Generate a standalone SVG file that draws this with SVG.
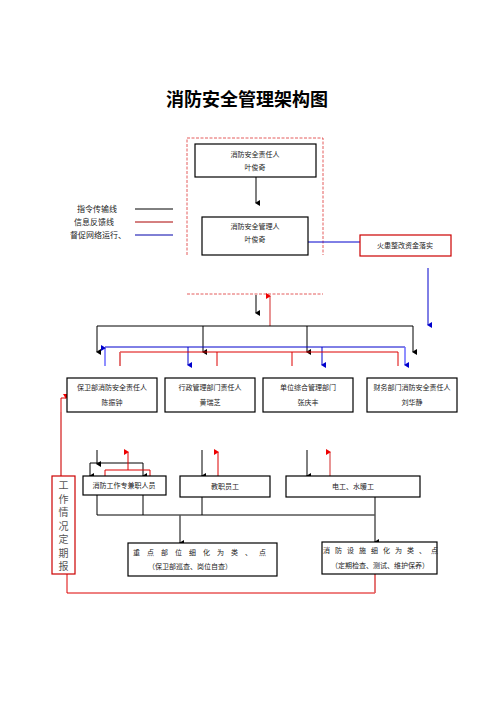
<svg xmlns="http://www.w3.org/2000/svg" width="496" height="702" viewBox="0 0 496 702">
<defs>
<style>
text{font-family:"Noto Sans CJK SC","Noto Sans",sans-serif;fill:#222;}
.t{font-size:7px;text-anchor:middle;}
.v{font-size:10px;text-anchor:middle;fill:#555;}
.box{fill:#fff;stroke:#000;stroke-width:1.2;}
.rbox{fill:#fff;stroke:#c00;stroke-width:1.2;}
.k{stroke:#000;stroke-width:1;fill:none;}
.g{stroke:#555;stroke-width:1.5;fill:none;}
.r{stroke:#d00;stroke-width:1;fill:none;}
.rl{stroke:#e07070;stroke-width:1.5;fill:none;}
.b{stroke:#00c;stroke-width:1;fill:none;}
.bl{stroke:#6a6aff;stroke-width:1.5;fill:none;}
.dash{stroke:#d33;stroke-width:0.8;stroke-dasharray:3,1.5;fill:none;}
</style>
<marker id="ak" markerWidth="6" markerHeight="6" refX="3" refY="5" orient="auto" markerUnits="userSpaceOnUse" viewBox="0 0 6 6"><path d="M0,1 L6,1 L3,6 Z" fill="#000"/></marker>
<marker id="ar" markerWidth="6" markerHeight="6" refX="3" refY="5" orient="auto" markerUnits="userSpaceOnUse" viewBox="0 0 6 6"><path d="M0,1 L6,1 L3,6 Z" fill="#e00"/></marker>
<marker id="ab" markerWidth="6" markerHeight="6" refX="3" refY="5" orient="auto" markerUnits="userSpaceOnUse" viewBox="0 0 6 6"><path d="M0,1 L6,1 L3,6 Z" fill="#00c"/></marker>
</defs>
<rect width="496" height="702" fill="#fff"/>
<text x="247" y="106" style="font-size:18px;font-weight:bold;text-anchor:middle;fill:#000">消防安全管理架构图</text>

<g id="legend">
<text x="77" y="212" style="font-size:8px">指令传输线</text>
<text x="74" y="225" style="font-size:8px">信息反馈线</text>
<text x="70" y="238" style="font-size:8px">督促网络运行、</text>
<line x1="135" y1="209" x2="173" y2="209" stroke="#000" stroke-width="1"/>
<line x1="135" y1="222" x2="173" y2="222" stroke="#a00" stroke-width="1"/>
<line x1="135" y1="235" x2="173" y2="235" stroke="#00a" stroke-width="1"/>
</g>

<g id="frame">
<path class="dash" d="M187,255 V138 H323 V255"/>
<line class="dash" x1="187" y1="294" x2="323" y2="294"/>
</g>

<g id="connectors">
<line class="g" x1="256" y1="177" x2="256" y2="203" marker-end="url(#ak)"/>
<path class="b" d="M308,242 H360"/>
<line class="b" x1="428" y1="268" x2="428" y2="325" marker-end="url(#ab)"/>
<line class="g" x1="256" y1="295" x2="256" y2="313" marker-end="url(#ak)"/>
<line class="rl" x1="270" y1="326" x2="270" y2="296" marker-end="url(#ar)"/>
<path class="k" d="M97,326 H413"/>
<line class="k" x1="97" y1="326" x2="97" y2="352" marker-end="url(#ak)"/>
<line class="k" x1="203" y1="326" x2="203" y2="352" marker-end="url(#ak)"/>
<line class="k" x1="307" y1="326" x2="307" y2="352" marker-end="url(#ak)"/>
<line class="k" x1="413" y1="326" x2="413" y2="352" marker-end="url(#ak)"/>
<path class="b" d="M105,347 H405"/>
<line class="bl" x1="105" y1="366" x2="105" y2="348" marker-end="url(#ab)"/>
<line class="b" x1="188" y1="347" x2="188" y2="365" marker-end="url(#ab)"/>
<line class="b" x1="322" y1="347" x2="322" y2="365" marker-end="url(#ab)"/>
<line class="bl" x1="405" y1="347" x2="405" y2="365" marker-end="url(#ab)"/>
<path class="r" d="M120,366 V352 H398 V366"/>
<path class="rl" d="M120,352 V366"/>
<line class="r" x1="217" y1="352" x2="217" y2="366"/>
<line class="r" x1="292" y1="352" x2="292" y2="366"/>
<path class="r" d="M61,477 V398 H66" marker-end="url(#ar)"/>
<path class="rl" d="M61,477 V412"/>
<line class="k" x1="97" y1="450" x2="97" y2="464" marker-end="url(#ak)"/>
<path class="k" d="M90,463 H143"/>
<line class="k" x1="90" y1="463" x2="90" y2="476" marker-end="url(#ak)"/>
<line class="k" x1="143" y1="463" x2="143" y2="476" marker-end="url(#ak)"/>
<path class="r" d="M105,476 V470 H150 V476"/>
<line class="r" x1="128" y1="470" x2="128" y2="452" marker-end="url(#ar)"/>
<line class="k" x1="202" y1="450" x2="202" y2="476" marker-end="url(#ak)"/>
<line class="r" x1="218" y1="476" x2="218" y2="452" marker-end="url(#ar)"/>
<line class="k" x1="307" y1="450" x2="307" y2="476" marker-end="url(#ak)"/>
<line class="rl" x1="330" y1="476" x2="330" y2="452" marker-end="url(#ar)"/>
<path class="k" d="M97,495 V515 M143,495 V515 M202,497 V515 M97,515 H375"/>
<line class="g" x1="180" y1="515" x2="180" y2="543" marker-end="url(#ak)"/>
<line class="g" x1="375" y1="497" x2="375" y2="542" marker-end="url(#ak)"/>
<path class="r" d="M67,574 V593 H375 V574"/>
<path class="rl" d="M375,593 V574"/>
</g>

<g id="n1"><rect class="box" x="195" y="144" width="121" height="33"/>
<text class="t" x="255" y="157">消防安全责任人</text><text class="t" x="255" y="170">叶俊奇</text></g>
<g id="n2"><rect class="box" x="202" y="217" width="106" height="38"/>
<text class="t" x="255" y="229">消防安全管理人</text><text class="t" x="255" y="242">叶俊奇</text></g>
<g id="n3"><rect class="rbox" x="360" y="235" width="91" height="21"/>
<text class="t" x="405" y="248">火患整改资金落实</text></g>
<g id="n4"><rect class="box" x="67" y="378" width="90" height="34"/>
<text class="t" x="112" y="390">保卫部消防安全责任人</text><text class="t" x="112" y="405">陈振钟</text></g>
<g id="n5"><rect class="box" x="165" y="378" width="90" height="34"/>
<text class="t" x="210" y="390">行政管理部门责任人</text><text class="t" x="210" y="405">黄瑞芝</text></g>
<g id="n6"><rect class="box" x="263" y="378" width="90" height="34"/>
<text class="t" x="308" y="390">单位综合管理部门</text><text class="t" x="308" y="405">张庆丰</text></g>
<g id="n7"><rect class="box" x="367" y="378" width="90" height="34"/>
<text class="t" x="412" y="390">财务部门消防安全责任人</text><text class="t" x="412" y="405">刘华静</text></g>
<g id="n8"><rect class="box" x="83" y="476" width="83" height="19"/>
<text class="t" x="124" y="488">消防工作专兼职人员</text></g>
<g id="n9"><rect class="box" x="180" y="476" width="90" height="21"/>
<text class="t" x="225" y="489">教职员工</text></g>
<g id="n10"><rect class="box" x="286" y="476" width="134" height="21"/>
<text class="t" x="353" y="489">电工、水暖工</text></g>
<g id="n11"><rect class="box" x="128" y="543" width="149" height="33"/>
<text class="t" x="203" y="555" style="letter-spacing:7px">重点部位细化为类、点</text><text class="t" x="190" y="569">（保卫部巡查、岗位自查）</text></g>
<g id="n12"><rect class="box" x="322" y="542" width="115" height="32"/>
<text class="t" x="383" y="553" style="letter-spacing:5px">消防设施细化为类、点</text><text class="t" x="380" y="568">（定期检查、测试、维护保养）</text></g>
<g id="n13"><rect class="rbox" x="52" y="476" width="23" height="98"/>
<text class="v" x="63.5" y="489">工</text><text class="v" x="63.5" y="502.5">作</text><text class="v" x="63.5" y="516">情</text><text class="v" x="63.5" y="529.5">况</text><text class="v" x="63.5" y="543">定</text><text class="v" x="63.5" y="556.5">期</text><text class="v" x="63.5" y="570">报</text></g>
</svg>
